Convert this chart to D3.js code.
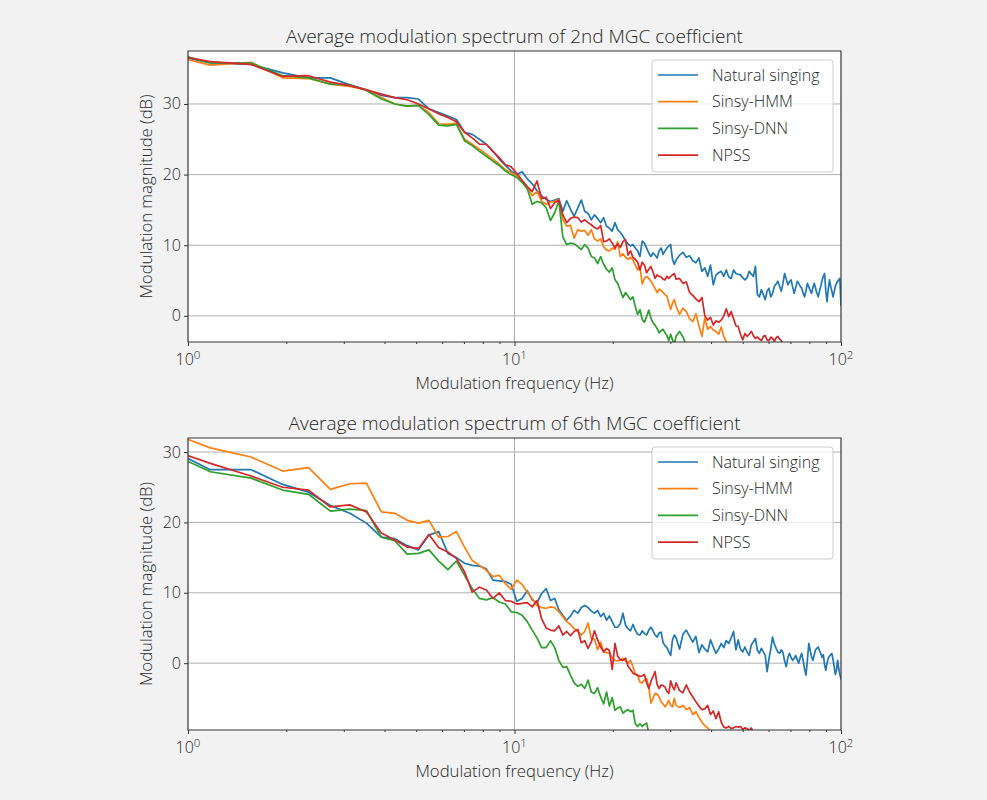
<!DOCTYPE html>
<html>
<head>
<meta charset="utf-8">
<script src="https://cdn.jsdelivr.net/npm/d3@7"></script>
<style>
  body { margin: 0; background: #f2f2f2; }
  svg { display: block; font-family: "Open Sans", "Noto Sans", sans-serif; font-weight: 300; }
</style>
</head>
<body>
<svg id="chart" width="987" height="800"></svg>
<script>
// Modulation-frequency bins (Hz): every bin up to 31.25 Hz, every second bin above.
const freqHz = [
  0.78,1.17,1.56,1.95,2.34,2.73,3.13,3.52,3.91,4.30,
  4.69,5.08,5.47,5.86,6.25,6.64,7.03,7.42,7.81,8.20,
  8.59,8.98,9.38,9.77,10.16,10.55,10.94,11.33,11.72,12.11,
  12.50,12.89,13.28,13.67,14.06,14.45,14.84,15.23,15.63,16.02,
  16.41,16.80,17.19,17.58,17.97,18.36,18.75,19.14,19.53,19.92,
  20.31,20.70,21.09,21.48,21.88,22.27,22.66,23.05,23.44,23.83,
  24.22,24.61,25.00,25.39,25.78,26.17,26.56,26.95,27.34,27.73,
  28.13,28.52,28.91,29.30,29.69,30.08,30.47,30.86,31.25,
  32.03,32.81,33.59,34.38,35.16,35.94,36.72,37.50,38.28,39.06,
  39.84,40.63,41.41,42.19,42.97,43.75,44.53,45.31,46.09,46.88,
  47.66,48.44,49.22,50.00,50.78,51.56,52.34,53.13,53.91,54.69,
  55.47,56.25,57.03,57.81,58.59,59.38,60.16,60.94,61.72,62.50,
  63.28,64.06,64.84,65.63,66.41,67.19,67.97,68.75,69.53,70.31,
  71.09,71.88,72.66,73.44,74.22,75.00,75.78,76.56,77.34,78.13,
  78.91,79.69,80.47,81.25,82.03,82.81,83.59,84.38,85.16,85.94,
  86.72,87.50,88.28,89.06,89.84,90.63,91.41,92.19,92.97,93.75,
  94.53,95.31,96.09,96.88,97.66,98.44,99.22,100.00
];

const seriesNames = ["Natural singing", "Sinsy-HMM", "Sinsy-DNN", "NPSS"];
const panelTitles = [
  "Average modulation spectrum of 2nd MGC coefficient",
  "Average modulation spectrum of 6th MGC coefficient"
];
const xLabel = "Modulation frequency (Hz)";
const yLabel = "Modulation magnitude (dB)";
const xMajorTicks = [1, 10, 100];
const xTickExponents = ["0", "1", "2"];
const yTicks = [0, 10, 20, 30];
const yLimits2nd = [-3.7, 37.5];
const yLimits6th = [-9.5, 32.0];

// 2nd MGC coefficient (dB), aligned with freqHz
const mgc2Natural = [
  37.6,35.8,35.6,34.4,33.7,33.7,32.7,32.0,31.2,30.9,
  30.9,30.7,29.3,28.8,28.3,27.8,26.0,25.7,25.0,24.3,
  23.3,22.2,21.3,20.5,20.0,20.4,19.4,18.7,17.7,17.0,
  16.5,16.2,16.4,16.6,14.8,16.3,15.1,14.1,15.3,16.4,
  14.8,14.5,13.6,14.3,13.8,13.2,13.9,12.7,12.4,12.0,
  13.2,12.2,11.8,11.3,10.6,10.2,9.9,10.1,9.6,9.2,
  8.4,10.6,10.3,9.6,8.9,8.4,8.9,8.6,8.2,9.2,
  9.6,8.7,9.2,9.6,9.9,10.1,8.0,7.3,7.9,
  8.6,9.0,8.3,8.5,7.8,7.5,8.2,6.3,6.8,5.6,
  7.2,4.4,5.8,6.1,6.3,5.6,6.5,5.5,5.3,6.5,
  6.0,5.9,5.8,5.4,5.1,5.4,6.3,5.9,5.6,7.0,
  3.0,2.7,3.7,3.0,2.3,3.5,3.9,2.7,3.2,4.2,
  4.5,4.9,4.2,3.5,4.6,6.0,5.2,4.4,4.8,5.1,
  4.1,3.2,4.0,4.9,4.6,4.2,3.9,3.2,2.7,3.6,
  4.6,4.1,3.6,3.2,4.0,4.6,3.9,3.2,2.7,3.5,
  4.2,5.0,5.6,6.0,3.5,2.0,3.8,5.1,4.2,3.5,
  2.7,3.4,4.2,4.6,4.9,5.1,5.3,1.5
];
const mgc2Hmm = [
  37.5,35.5,35.9,33.7,33.6,32.8,32.5,32.0,30.9,30.0,
  29.7,29.8,28.8,27.2,27.1,27.3,25.0,24.3,23.6,22.9,
  22.2,21.5,20.7,20.3,19.8,19.0,18.2,17.0,17.6,16.2,
  15.8,16.1,16.2,16.5,13.6,12.7,12.8,11.0,12.2,12.0,
  12.1,11.4,12.2,10.9,10.6,10.9,9.8,9.3,9.2,9.6,
  9.4,10.5,8.4,8.8,8.3,8.0,8.3,7.9,7.2,6.5,
  7.0,4.5,5.3,5.6,5.3,4.9,4.4,3.9,3.3,3.8,
  3.6,3.3,3.0,2.8,1.8,0.9,1.8,2.3,1.4,
  0.2,1.1,0.6,-0.4,-0.8,0.3,-1.4,-2.9,-0.3,-1.9,
  -1.5,-2.0,-2.2,-2.6,-1.6,-2.9,-3.7,-4.5,-5.2
];
const mgc2Dnn = [
  38.0,35.8,35.8,34.0,33.7,32.8,32.7,31.9,30.7,30.0,
  29.7,29.8,28.5,27.0,26.9,27.1,24.8,24.1,23.3,22.6,
  21.9,21.3,20.5,20.0,19.6,18.9,18.0,15.8,16.2,16.0,
  15.3,13.5,14.6,16.3,11.2,10.1,10.3,10.2,9.8,9.4,
  10.1,9.6,8.4,8.2,7.4,8.4,7.3,6.6,6.2,6.8,
  5.1,4.6,3.6,2.6,3.3,2.8,2.3,2.7,1.3,0.2,
  0.9,-0.5,-0.9,-0.1,0.8,-0.3,-1.0,-1.3,-1.8,-2.4,
  -2.1,-1.9,-2.4,-2.8,-3.5,-2.6,-3.4,-4.0,-2.9,
  -2.2,-3.0,-4.2,-5.0
];
const mgc2Npss = [
  37.5,36.0,35.6,33.9,34.0,33.1,32.6,32.0,31.4,30.9,
  30.6,30.0,29.3,28.6,28.1,27.5,26.0,25.2,24.3,24.3,
  23.3,22.4,21.4,21.1,20.2,19.2,18.3,17.6,19.1,16.6,
  16.8,15.2,16.0,16.4,14.3,13.2,13.8,14.0,13.9,13.3,
  13.6,13.2,12.9,12.5,12.3,12.8,10.5,10.6,10.9,10.3,
  9.6,10.2,9.7,10.5,10.8,8.6,9.2,8.3,8.0,7.6,
  6.5,7.6,7.2,6.1,6.6,7.0,6.2,5.3,5.8,5.6,
  5.5,5.2,5.1,5.6,5.3,5.6,5.8,6.0,5.2,
  5.3,4.6,4.8,3.3,2.9,2.4,2.0,2.6,0.0,-0.6,
  -0.2,-1.3,-0.7,-0.9,-0.6,0.0,1.0,-0.1,0.6,-0.4,
  -1.4,-1.5,-2.6,-3.4,-2.5,-2.9,-2.6,-2.2,-2.8,-3.2,
  -3.0,-3.3,-3.5,-2.9,-2.8,-3.4,-3.5,-3.0,-3.2,-3.6,
  -3.1,-2.9,-3.3,-3.5,-4.3,-4.8,-5.5
];

// 6th MGC coefficient (dB), aligned with freqHz
const mgc6Natural = [
  31.6,27.5,27.5,25.4,24.3,22.4,21.3,19.9,17.9,17.7,
  16.7,16.1,18.2,18.7,15.6,15.0,14.2,13.9,13.8,13.4,
  11.8,11.7,11.6,11.2,8.8,9.2,10.3,9.0,8.6,9.9,
  10.6,8.9,9.2,7.6,6.8,6.1,6.7,7.5,7.1,7.9,
  8.2,7.9,7.4,7.1,7.5,6.6,7.1,6.1,6.7,5.9,
  5.1,5.1,5.6,7.1,5.4,4.9,4.6,5.5,4.7,4.1,
  4.0,4.6,4.2,4.0,4.7,5.1,4.6,4.0,3.7,4.3,
  4.4,2.9,2.5,2.2,1.6,1.1,3.3,4.0,3.6,
  2.0,4.1,4.7,3.8,3.0,3.8,1.5,2.6,2.0,1.6,
  3.3,2.3,1.4,2.0,2.8,2.2,3.2,2.8,3.6,4.5,
  1.9,3.3,2.0,1.6,2.3,1.6,1.1,2.6,3.0,3.5,
  1.8,1.4,2.1,1.6,1.1,-1.2,0.6,2.0,3.7,2.7,
  2.1,1.6,1.4,1.9,1.5,0.3,-0.5,0.8,1.4,0.8,
  0.4,0.7,1.1,0.5,0.0,0.8,1.4,0.4,-0.8,-1.7,
  0.5,2.8,1.8,0.9,0.4,1.2,1.9,2.1,2.3,1.8,
  1.4,0.8,1.2,-0.2,-1.0,0.0,0.7,1.0,1.2,1.4,
  0.5,-0.5,-1.6,-1.0,0.4,-0.8,-1.6,-2.2
];
const mgc6Hmm = [
  33.7,30.6,29.3,27.3,27.8,24.7,25.5,25.6,21.5,21.3,
  20.3,19.9,20.3,17.9,18.0,18.7,16.5,14.6,13.9,13.2,
  12.3,12.5,11.3,10.5,11.8,11.2,10.1,9.2,8.2,7.9,
  7.8,8.0,7.9,7.3,6.6,5.9,5.5,4.9,4.5,4.0,
  4.5,5.7,3.5,3.4,1.9,3.0,1.6,1.5,1.4,0.8,
  0.4,0.3,0.5,0.7,0.3,0.0,0.4,-0.5,-1.5,-1.7,
  -2.7,-2.8,-2.4,-2.2,-3.4,-5.7,-5.0,-4.3,-4.4,-4.8,
  -5.5,-5.8,-6.2,-5.8,-5.3,-6.0,-6.2,-5.0,-6.0,
  -6.3,-6.0,-6.6,-6.3,-7.3,-6.9,-7.7,-8.4,-8.9,-9.2,
  -9.7,-10.3
];
const mgc6Dnn = [
  31.0,27.2,26.3,24.6,24.0,21.6,21.9,21.7,17.9,17.4,
  15.5,15.6,16.1,14.5,13.3,14.5,12.5,10.6,9.2,9.0,
  9.3,8.7,8.4,7.3,7.2,6.8,5.9,4.7,3.6,2.2,
  2.2,3.2,2.2,0.4,-0.6,-0.5,-1.7,-2.8,-3.3,-3.0,
  -3.6,-2.4,-4.1,-4.3,-3.5,-4.8,-5.8,-4.1,-6.1,-4.9,
  -6.7,-6.4,-6.2,-7.1,-6.8,-6.6,-6.9,-6.7,-8.6,-9.0,
  -8.6,-9.0,-8.7,-8.5,-10.0,-11.0
];
const mgc6Npss = [
  31.2,28.4,26.6,25.0,24.6,22.2,22.5,21.5,18.5,17.5,
  16.5,16.3,18.3,16.4,15.8,14.9,13.0,10.1,10.8,10.4,
  9.2,10.0,8.9,8.8,8.4,8.5,8.6,8.0,8.9,6.3,
  5.0,4.7,4.6,5.3,4.0,4.5,3.9,4.5,4.8,2.9,
  3.2,2.1,3.0,4.6,3.3,2.3,1.6,2.1,1.8,-0.9,
  2.8,1.0,0.5,0.4,0.7,-0.4,-0.9,-1.4,-1.6,-1.7,
  -1.9,-1.8,-1.6,-2.8,-3.6,-2.6,-1.9,-1.2,-3.0,-3.6,
  -3.1,-3.2,-3.4,-4.0,-4.3,-2.5,-3.3,-3.8,-2.8,
  -3.9,-4.2,-3.1,-4.1,-4.8,-5.5,-6.1,-6.6,-6.5,-6.0,
  -7.3,-6.8,-7.9,-6.9,-8.4,-9.1,-9.2,-9.0,-9.3,-9.2,
  -9.0,-9.1,-9.0,-9.4,-9.2,-9.3,-9.6,-9.2,-9.9,-10.5
];

// ---- layout and styling ----
const colors = ["#1f77b4", "#ff7f0e", "#2ca02c", "#d62728"];
const textColor = "#262626";
const plotLeft = 188, plotRight = 841;

const panels = [
  { title: panelTitles[0], yDomain: yLimits2nd, top: 51, bottom: 342,
    series: [mgc2Natural, mgc2Hmm, mgc2Dnn, mgc2Npss] },
  { title: panelTitles[1], yDomain: yLimits6th, top: 438, bottom: 730,
    series: [mgc6Natural, mgc6Hmm, mgc6Dnn, mgc6Npss] }
];

const svg = d3.select("#chart");
const x = d3.scaleLog().domain([1, 100]).range([plotLeft, plotRight]);
const minorTicks = [];
[1, 10].forEach(dec => { for (let m = 2; m <= 9; m++) minorTicks.push(dec * m); });

panels.forEach((p, pi) => {
  const y = d3.scaleLinear().domain(p.yDomain).range([p.bottom, p.top]);
  const g = svg.append("g");
  const clipId = "clip" + pi;

  g.append("clipPath").attr("id", clipId)
    .append("rect")
    .attr("x", plotLeft).attr("y", p.top)
    .attr("width", plotRight - plotLeft).attr("height", p.bottom - p.top);

  // plot background
  g.append("rect")
    .attr("x", plotLeft).attr("y", p.top)
    .attr("width", plotRight - plotLeft).attr("height", p.bottom - p.top)
    .attr("fill", "#fff");

  // grid lines
  g.append("g").selectAll("line").data(xMajorTicks).join("line")
    .attr("x1", d => x(d)).attr("x2", d => x(d))
    .attr("y1", p.top).attr("y2", p.bottom)
    .attr("stroke", "#b0b0b0").attr("stroke-width", 1);
  g.append("g").selectAll("line").data(yTicks).join("line")
    .attr("x1", plotLeft).attr("x2", plotRight)
    .attr("y1", d => y(d)).attr("y2", d => y(d))
    .attr("stroke", "#b0b0b0").attr("stroke-width", 1);

  // spectra
  const line = d3.line()
    .x(d => x(d[0]))
    .y(d => y(d[1]));
  const lines = g.append("g").attr("clip-path", `url(#${clipId})`);
  p.series.forEach((vals, si) => {
    const pts = vals.map((v, i) => [freqHz[i], v]);
    lines.append("path")
      .datum(pts)
      .attr("d", line)
      .attr("fill", "none")
      .attr("stroke", colors[si])
      .attr("stroke-width", 1.7)
      .attr("stroke-linejoin", "round")
      .attr("stroke-linecap", "square");
  });

  // frame
  g.append("rect")
    .attr("x", plotLeft).attr("y", p.top)
    .attr("width", plotRight - plotLeft).attr("height", p.bottom - p.top)
    .attr("fill", "none").attr("stroke", "#333").attr("stroke-width", 1);

  // x axis ticks
  const xAxis = g.append("g").attr("transform", `translate(0,${p.bottom})`);
  xAxis.call(d3.axisBottom(x).tickValues(xMajorTicks).tickSize(4).tickFormat(""));
  xAxis.append("g").call(d3.axisBottom(x).tickValues(minorTicks).tickSize(2).tickFormat(""));
  xAxis.selectAll(".domain").remove();
  xAxis.selectAll("line").attr("stroke", "#333");

  const xLabels = g.append("g").selectAll("text").data(xMajorTicks).join("text")
    .attr("x", d => x(d)).attr("y", p.bottom + 23)
    .attr("text-anchor", "middle")
    .attr("font-size", 16).attr("fill", textColor);
  xLabels.append("tspan").text("10");
  xLabels.append("tspan")
    .attr("dy", -6).attr("font-size", 11.5)
    .text((d, i) => xTickExponents[i]);

  // y axis ticks
  const yAxis = g.append("g").attr("transform", `translate(${plotLeft},0)`);
  yAxis.call(d3.axisLeft(y).tickValues(yTicks).tickSize(4).tickFormat(""));
  yAxis.selectAll(".domain").remove();
  yAxis.selectAll("line").attr("stroke", "#333");
  g.append("g").selectAll("text").data(yTicks).join("text")
    .attr("x", plotLeft - 7).attr("y", d => y(d) + 5.5)
    .attr("text-anchor", "end")
    .attr("font-size", 16).attr("fill", textColor)
    .text(d => d);

  // titles and axis labels
  g.append("text")
    .attr("x", (plotLeft + plotRight) / 2).attr("y", p.top - 8)
    .attr("text-anchor", "middle")
    .attr("font-size", 19).attr("fill", textColor)
    .text(p.title);
  g.append("text")
    .attr("x", (plotLeft + plotRight) / 2).attr("y", p.bottom + 47)
    .attr("text-anchor", "middle")
    .attr("font-size", 16.7).attr("fill", textColor)
    .text(xLabel);
  g.append("text")
    .attr("transform", `translate(152,${(p.top + p.bottom) / 2}) rotate(-90)`)
    .attr("text-anchor", "middle")
    .attr("font-size", 16.7).attr("fill", textColor)
    .text(yLabel);

  // legend
  const lg = g.append("g").attr("transform", `translate(652,${p.top + 9})`);
  lg.append("rect")
    .attr("width", 181).attr("height", 112).attr("rx", 3)
    .attr("fill", "#fff").attr("fill-opacity", 0.8)
    .attr("stroke", "#ccc").attr("stroke-width", 1);
  seriesNames.forEach((name, si) => {
    const ry = 15 + si * 26.7;
    lg.append("line")
      .attr("x1", 6).attr("x2", 46).attr("y1", ry).attr("y2", ry)
      .attr("stroke", colors[si]).attr("stroke-width", 1.7);
    lg.append("text")
      .attr("x", 60).attr("y", ry + 5.5)
      .attr("font-size", 16).attr("fill", textColor)
      .text(name);
  });
});
</script>
</body>
</html>
